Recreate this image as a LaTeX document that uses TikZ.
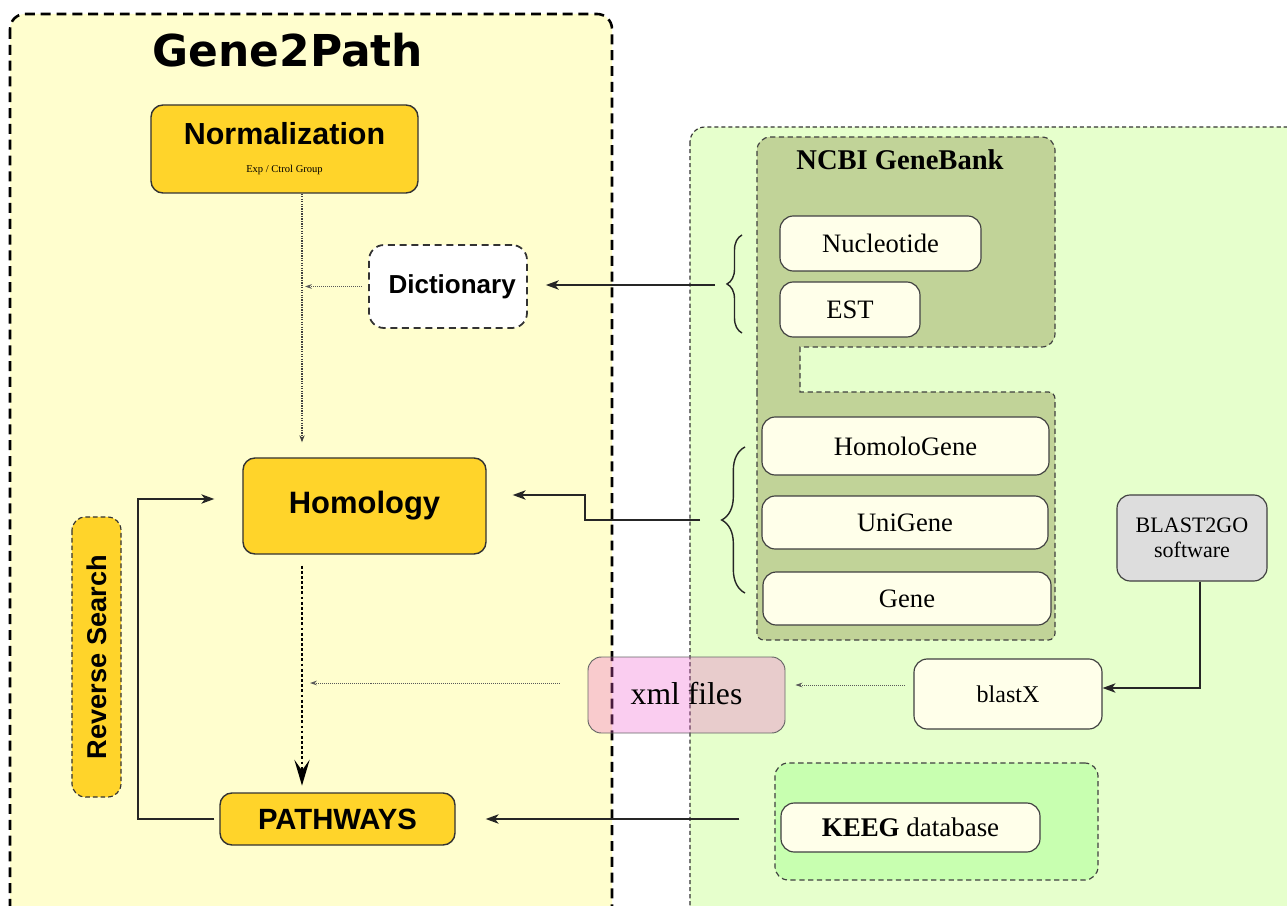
\documentclass[tikz,border=0pt]{standalone}
\usepackage{fontspec}
\setmainfont{Liberation Serif}
\setsansfont{Liberation Sans}
\newfontfamily\titlefont{DejaVu Sans}
\usetikzlibrary{arrows.meta,calc,decorations.pathreplacing}

\definecolor{panelyellow}{RGB}{255,254,206}
\definecolor{panelgreen}{RGB}{230,255,204}
\definecolor{boxgold}{RGB}{255,212,42}
\definecolor{boxcream}{RGB}{255,255,234}
\definecolor{ncbiolive}{RGB}{193,211,152}
\definecolor{kegggreen}{RGB}{200,255,176}
\definecolor{softgray}{RGB}{221,221,221}
\definecolor{xmlpink}{RGB}{238,88,205}

\begin{document}
\begin{tikzpicture}[x=0.03cm,y=-0.03cm,
    gold/.style={shape=rectangle,rounded corners=0.36cm,draw=black!80,line width=1.2pt,fill=boxgold,inner sep=0pt,font=\sffamily\bfseries},
    cream/.style={shape=rectangle,rounded corners=0.4cm,draw=black!75,line width=1pt,fill=boxcream,inner sep=0pt,font=\fontsize{22.7}{26}\selectfont},
    group/.style={draw=black!75,line width=1pt,dash pattern=on 4.5pt off 3pt},
    solidarrow/.style={-{Stealth[length=11pt,width=8pt,inset=3pt]},line width=1.3pt,draw=black!85},
    thinarrow/.style={-{Stealth[length=6pt,width=4pt]},densely dotted,line width=0.7pt,draw=black!65},
    curly/.style={decorate,line width=1.2pt,draw=black!85}
]
    \useasboundingbox (0,0) rectangle (1287,906);

    \draw[fill=panelyellow,line width=2.2pt,dash pattern=on 8.5pt off 5pt,rounded corners=0.45cm] (10,14) rectangle (612,960);
    \draw[fill=panelgreen,draw=black!80,line width=1pt,dash pattern=on 3.5pt off 2.5pt,rounded corners=0.45cm] (690,127) rectangle (1340,960);

    \draw[group,fill=ncbiolive,rounded corners=0.4cm] (757,400) -- (757,137) -- (1055,137) -- (1055,347) [sharp corners] -- (800,347) -- (800,392) [rounded corners=0.2cm] -- (1055,392) -- (1055,640) -- (757,640) -- cycle;
    \node[group,fill=kegggreen,rounded corners=0.4cm,minimum width=9.69cm,minimum height=3.51cm] (KeggDB) at (936.5,821.5) {};

    \node[font=\titlefont\bfseries\fontsize{37.5}{40}\selectfont] (Title) at (288,50) {Gene2Path};
    \node[font=\bfseries\fontsize{24.4}{28}\selectfont] (NCBI) at (900,160) {NCBI GeneBank};

    \node[gold,minimum width=8.01cm,minimum height=2.64cm,align=center] (Norm) at (284.5,149) {\fontsize{26}{30}\selectfont Normalization\\[12pt]{\rmfamily\mdseries\fontsize{9}{10}\selectfont Exp / Ctrol Group}};
    \node[shape=rectangle,rounded corners=0.45cm,draw=black!80,fill=white,line width=1.5pt,dash pattern=on 6pt off 4pt,minimum width=4.74cm,minimum height=2.49cm,font=\sffamily\bfseries\fontsize{22.2}{26}\selectfont] (Dict) at (448,286.5) {\hspace{0.25cm}Dictionary};
    \node[gold,minimum width=7.29cm,minimum height=2.88cm,font=\sffamily\bfseries\fontsize{26.4}{30}\selectfont] (Hom) at (364.5,506) {Homology};
    \node[gold,minimum width=7.05cm,minimum height=1.56cm,font=\sffamily\bfseries\fontsize{25}{30}\selectfont] (Path) at (337.5,819) {PATHWAYS};
    \node[gold,rotate=90,dash pattern=on 4pt off 2.5pt,line width=1pt,rounded corners=0.4cm,minimum width=8.4cm,minimum height=1.47cm,font=\sffamily\bfseries\fontsize{23.2}{26}\selectfont] (Rev) at (96.5,657) {Reverse Search};

    \node[cream,minimum width=6.03cm,minimum height=1.65cm] (Nuc) at (880.5,243.5) {Nucleotide};
    \node[cream,minimum width=4.2cm,minimum height=1.65cm] (EST) at (850,309.5) {EST};
    \node[cream,minimum width=8.61cm,minimum height=1.74cm] (HomG) at (905.5,446) {HomoloGene};
    \node[cream,minimum width=8.58cm,minimum height=1.59cm] (Uni) at (905,522.5) {UniGene};
    \node[cream,minimum width=8.64cm,minimum height=1.59cm] (Gene) at (907,598.5) {Gene};
    \node[cream,minimum width=5.64cm,minimum height=2.1cm,font=\fontsize{20.5}{24}\selectfont] (Blast) at (1008,694) {blastX};
    \node[cream,fill=softgray,minimum width=4.5cm,minimum height=2.58cm,align=center,font=\fontsize{18.8}{21}\selectfont] (B2GO) at (1192,538) {BLAST2GO\\software};
    \node[cream,minimum width=7.77cm,minimum height=1.47cm,font=\fontsize{23}{26}\selectfont] (Kegg) at (910.5,827.5) {\textbf{KEEG} database};
    \node[shape=rectangle,rounded corners=0.4cm,draw=black!60,line width=0.8pt,fill=xmlpink,fill opacity=0.3,text opacity=1,minimum width=5.91cm,minimum height=2.28cm,font=\fontsize{27}{30}\selectfont] (Xml) at (686.5,695) {\raisebox{3pt}{xml files}};

    \draw[curly,decoration={brace,amplitude=0.45cm}] (742,333) -- (742,235);
    \draw[curly,decoration={brace,amplitude=0.7cm}] (745,593) -- (745,447);
    \coordinate (BrA) at (715,285);
    \coordinate (BrB) at (700,520);
    \coordinate (Spine) at (302,0);
    \coordinate (Step) at (585,495);
    \coordinate (Loop) at (138,499);

    \draw[-{Stealth[length=6pt,width=4.5pt]},densely dotted,line width=1.1pt,draw=black!75,shorten >=0.45cm] (Norm.south -| Spine) -- (Hom.north -| Spine);
    \draw[-{Stealth[length=22pt,width=13pt,inset=9pt]},dotted,line width=2.4pt,shorten <=0.33cm,shorten >=0.2cm] (Hom.south -| Spine) -- (Path.north -| Spine);
    \draw[thinarrow,shorten <=0.2cm,shorten >=0.09cm] (Dict.west) -- (Dict.west -| Spine);
    \draw[thinarrow,shorten <=0.84cm,shorten >=0.24cm] ($(Xml.west)+(0,-12)$) -- ($(Xml.west -| Spine)+(0,-12)$);
    \draw[thinarrow,shorten <=0.27cm,shorten >=0.3cm] ($(Blast.west)+(0,-9)$) -- ($(Xml.east)+(0,-10)$);
    \draw[solidarrow,shorten >=0.54cm] (BrA) -- (BrA -| Dict.east);
    \draw[solidarrow,shorten >=0.78cm] (BrB) -| (Step) -- (Step -| Hom.east);
    \draw[solidarrow] ($(B2GO.south)+(8,0)$) |- ($(Blast.east)+(0,-6)$);
    \draw[solidarrow,shorten <=1.05cm,shorten >=0.9cm] (KeggDB.west |- Path.east) -- (Path.east);
    \draw[solidarrow,shorten <=0.15cm,shorten >=0.84cm] (Path.west) -| (Loop) -- (Loop -| Hom.west);
\end{tikzpicture}
\end{document}
